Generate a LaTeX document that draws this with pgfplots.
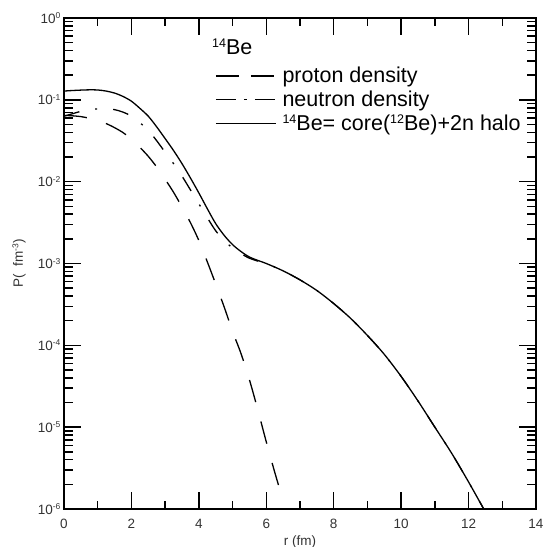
\documentclass[border=0pt]{standalone}
\usepackage{fontspec}
\setmainfont{Liberation Sans}
\usepackage{pgfplots}
\pgfplotsset{compat=1.18}
\newcommand\supL[1]{\raisebox{7pt}{\fontsize{12.5}{12.5}\selectfont #1}}
\newcommand\supT[1]{\raisebox{4.5pt}{\fontsize{8.5}{8.5}\selectfont #1}}
\begin{document}
\begin{tikzpicture}
\path (-64pt,-38pt) rectangle (479pt,509pt);
\begin{axis}[
  at={(0pt,0pt)}, anchor=south west,
  scale only axis, width=472pt, height=491pt,
  ymode=log, xmin=0, xmax=14, ymin=1e-6, ymax=1,
  axis line style={line width=1.4pt},
  ticks=both,
  major tick length=17pt, minor tick length=8.5pt,
  every tick/.style={line width=1.5pt, black},
  xtick={0,2,...,14}, xticklabels={0,2,4,6,8,10,12,14},
  minor xtick={1,3,...,13},
  ytick={1e-6,1e-5,1e-4,1e-3,1e-2,1e-1,1},
  yticklabels={10\supT{-6},10\supT{-5},10\supT{-4},10\supT{-3},10\supT{-2},10\supT{-1},10\supT{0}},
  tick label style={font=\fontsize{13.5}{16}\selectfont, text=black!80},
  xticklabel style={yshift=-7pt, overlay},
  xlabel={r (fm)}, ylabel={P(\ \ fm\supT{-3})},
  xlabel style={at={(axis description cs:0.5,-0.0672)}, anchor=center, overlay, font=\fontsize{13.5}{16}\selectfont, text=black!80},
  ylabel style={at={(axis description cs:-0.095,0.5)}, anchor=center, overlay, font=\fontsize{13.5}{16}\selectfont, text=black!80},
  legend style={draw=none, fill=none, at={(rel axis cs:0.3136,0.908)}, anchor=north west,
    font=\fontsize{21.5}{24}\selectfont, row sep=2.5pt},
  legend cell align=left,
  legend image code/.code={\draw[#1] (0pt,0pt) -- (60pt,0pt); \path (64pt,0pt);},
]
% proton
\addplot[black, line width=1.3pt, dash pattern=on 23pt off 20pt, smooth, forget plot] coordinates {
(0,0.0646)(0.25,0.0638)(0.5,0.0624)(0.75,0.0596)(1.0,0.0562)(1.25,0.0513)(1.5,0.0457)(1.75,0.0398)
(2.0,0.0331)(2.25,0.0263)(2.5,0.0204)(2.75,0.0151)(3.0,0.0107)(3.25,0.00741)(3.5,0.00490)
(3.75,0.00316)(4.0,0.00191)(4.25,0.00105)(4.5,5.62e-4)(4.75,2.95e-4)(5.0,1.48e-4)
(5.25,7.94e-5)(5.5,3.80e-5)(5.75,1.62e-5)(6.0,6.61e-6)(6.25,2.82e-6)(6.5,1.26e-6)
};
% neutron
\addplot[black, line width=1.3pt, dash pattern=on 16pt off 16pt on 2pt off 16pt, smooth, forget plot] coordinates {
(0,0.0631)(0.25,0.0676)(0.5,0.0724)(0.75,0.0759)(1.0,0.0776)(1.25,0.0776)(1.5,0.0759)(1.75,0.0708)
(2.0,0.0631)(2.25,0.0525)(2.5,0.0427)(2.75,0.0316)(3.0,0.0229)(3.25,0.0166)(3.5,0.0117)
(3.75,0.00794)(4.0,0.00537)(4.25,0.00363)(4.5,0.00251)(4.75,0.00191)(5.0,0.00155)
(5.25,0.00132)(5.5,0.00116)(5.75,0.00107)(6.0,0.00100)(6.5,8.13e-4)(7.0,6.31e-4)(7.5,4.68e-4)
(8.0,3.24e-4)(8.5,2.14e-4)(9.0,1.32e-4)(9.5,7.76e-5)(10.0,4.17e-5)(10.5,2.09e-5)(11.0,1.00e-5)
(11.5,4.79e-6)(12.0,2.14e-6)(12.45,1.00e-6)
};
% total
\addplot[black, line width=1.3pt, smooth, forget plot] coordinates {
(0,0.128)(0.25,0.130)(0.5,0.1315)(0.75,0.1325)(1.0,0.132)(1.25,0.128)(1.5,0.121)(1.75,0.110)
(2.0,0.0962)(2.25,0.0788)(2.5,0.0631)(2.75,0.0467)(3.0,0.0336)(3.25,0.0240)(3.5,0.0166)
(3.75,0.0111)(4.0,0.00728)(4.25,0.00468)(4.5,0.00307)(4.75,0.00221)(5.0,0.00170)
(5.25,0.00140)(5.5,0.00120)(5.75,0.00109)(6.0,0.00100)(6.5,8.13e-4)(7.0,6.31e-4)(7.5,4.68e-4)
(8.0,3.24e-4)(8.5,2.14e-4)(9.0,1.32e-4)(9.5,7.76e-5)(10.0,4.17e-5)(10.5,2.09e-5)(11.0,1.00e-5)
(11.5,4.79e-6)(12.0,2.14e-6)(12.45,1.00e-6)
};
\addlegendimage{black, line width=1.3pt, dash pattern=on 23pt off 12pt}
\addlegendentry{proton density}
\addlegendimage{black, line width=1.3pt, dash pattern=on 20pt off 8pt on 3pt off 8pt}
\addlegendentry{neutron density}
\addlegendimage{black, line width=0.7pt}
\addlegendentry{\supL{14}Be= core(\supL{12}Be)+2n halo}
\node[anchor=west, font=\fontsize{21.5}{24}\selectfont, inner sep=0pt] at (rel axis cs:0.3136,0.941) {\supL{14}Be};
\end{axis}
\end{tikzpicture}
\end{document}
